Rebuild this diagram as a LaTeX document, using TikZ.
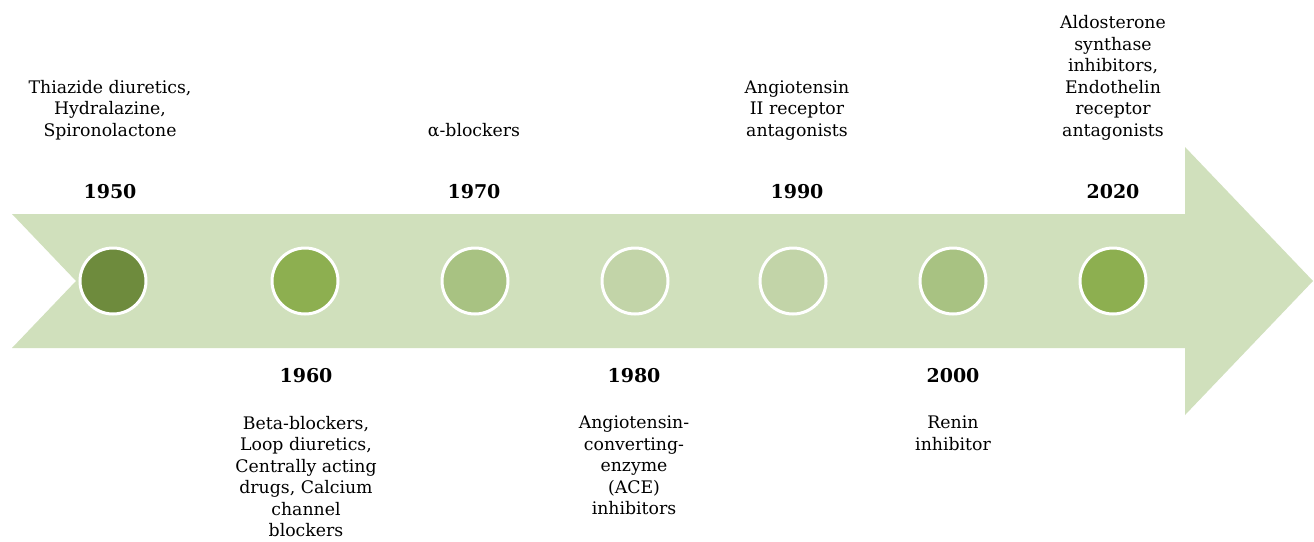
\documentclass[tikz,border=0pt]{standalone}
\usepackage{fontspec}
\setmainfont{DejaVu Serif}
\definecolor{band}{HTML}{D0E0BC}
\definecolor{cA}{HTML}{6E8B3D}
\definecolor{cB}{HTML}{8DAF50}
\definecolor{cC}{HTML}{A8C282}
\definecolor{cD}{HTML}{C2D4A8}
\tikzset{
  dot/.style={circle,draw=white,line width=3pt,minimum size=66pt,inner sep=0pt},
  lbl/.style={align=center,inner sep=0pt,font=\fontsize{17.3}{21.5}\selectfont},
  yr/.style={inner sep=0pt,font=\fontsize{19}{22}\selectfont\bfseries},
}
\begin{document}
\begin{tikzpicture}[x=1pt,y=-1pt]
\useasboundingbox (0,0) rectangle (1314,541);
\fill[white] (0,0) rectangle (1314,541);
\fill[band] (12,214) -- (1185,214) -- (1185,147) -- (1313,281) -- (1185,415) -- (1185,348) -- (12,348) -- (76,281) -- cycle;
\node[dot,fill=cA] (d1950) at (113,281) {};
\node[dot,fill=cB] (d1960) at (305,281) {};
\node[dot,fill=cC] (d1970) at (475,281) {};
\node[dot,fill=cD] (d1980) at (635,281) {};
\node[dot,fill=cD] (d1990) at (793,281) {};
\node[dot,fill=cC] (d2000) at (953,281) {};
\node[dot,fill=cB] (d2020) at (1113,281) {};
\node[yr] (y1950) at (110,192) {1950};
\node[yr] (y1970) at (474,192) {1970};
\node[yr] (y1990) at (797,192) {1990};
\node[yr] (y2020) at (1113,192) {2020};
\node[yr] (y1960) at (306,376) {1960};
\node[yr] (y1980) at (634,376) {1980};
\node[yr] (y2000) at (953,376) {2000};
\node[lbl,anchor=base] (t1950) at (110,136) {Thiazide diuretics,\\Hydralazine,\\Spironolactone};
\node[lbl,anchor=base] (t1970) at (474,136) {α-blockers};
\node[lbl,anchor=base] (t1990) at (797,136) {Angiotensin\\II receptor\\antagonists};
\node[lbl,anchor=base] (t2020) at (1113,136) {Aldosterone\\synthase\\inhibitors,\\Endothelin\\receptor\\antagonists};
\node[lbl,anchor=north] (t1960) at (306,416) {Beta-blockers,\\Loop diuretics,\\Centrally acting\\drugs, Calcium\\channel\\blockers};
\node[lbl,anchor=north] (t1980) at (634,416) {Angiotensin-\\converting-\\enzyme\\(ACE)\\inhibitors};
\node[lbl,anchor=north] (t2000) at (953,416) {Renin\\inhibitor};
\end{tikzpicture}
\end{document}
